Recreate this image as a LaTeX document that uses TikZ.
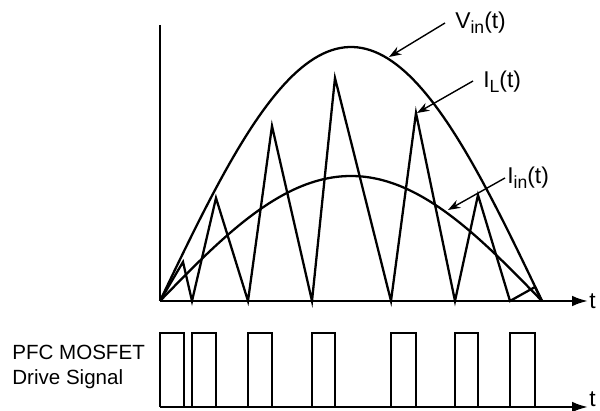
\documentclass[tikz,border=0pt]{standalone}
\usepackage{fontspec}
\setmainfont{Liberation Sans}
\usetikzlibrary{arrows.meta}
\newcommand{\subind}[1]{\raisebox{-0.45ex}{\fontsize{10}{10}\selectfont #1}}

\begin{document}
\begin{tikzpicture}[x=0.02cm, y=-0.02cm,
        every node/.style={font=\fontsize{13}{15}\selectfont, inner sep=0pt},
        eje/.style={line width=1.3pt, -{Latex[length=9pt,width=6pt]}},
        senal/.style={line width=1.3pt, line join=miter},
        flecha/.style={line width=0.8pt, -{Stealth[length=7pt,width=5pt]}}
    ]
    \useasboundingbox (0,0) rectangle (600,411);

    % Ejes superiores
    \coordinate (origen) at (160,301);
    \coordinate (finEjeY) at (160,25);
    \coordinate (finEjeT) at (588,301);
    \draw[line width=1.3pt] (finEjeY) -- (origen);
    \draw[eje] (origen) -- (finEjeT);
    \node[anchor=west] (tArriba) at (589,301) {t};

    % Vin e Iin
    \draw[senal, domain=160:542, samples=90] plot (\x, {301-254*sin(0.47120*(\x-160))});
    \draw[senal, domain=160:542, samples=90] plot (\x, {301-125*sin(0.47120*(\x-160))});

    % Corriente en la bobina
    \draw[senal] plot coordinates {(160,301) (183,262) (192,301) (216,198) (248,301) (272,126)
        (312,301) (335,78) (391,301) (416,113) (455,301) (478,195) (510,301) (535,287) (542,301)};

    % Etiquetas
    \node[anchor=west] (etiquetaVin) at (455,23) {V\subind{in}(t)};
    \node[anchor=west] (etiquetaIL) at (483,82) {I\subind{L}(t)};
    \node[anchor=west] (etiquetaIin) at (507,178) {I\subind{in}(t)};
    \coordinate (puntaVin) at (389,57);
    \coordinate (puntaIL) at (417,113);
    \coordinate (puntaIin) at (448,210);
    \draw[flecha] (445,23) -- (puntaVin);
    \draw[flecha] (473,81) -- (puntaIL);
    \draw[flecha] (505,178) -- (puntaIin);

    % Senal de disparo
    \node[anchor=west, align=left, font=\fontsize{11.7}{14.5}\selectfont] (disparo) at (12,367) {PFC MOSFET\\Drive Signal};
    \coordinate (origenAbajo) at (160,407);
    \coordinate (finEjeAbajo) at (588,407);
    \draw[eje] (origenAbajo) -- (finEjeAbajo);
    \node[anchor=west] (tAbajo) at (589,399) {t};
    \foreach \a/\b in {160/184, 192/216, 248/272, 312/335, 391/416, 455/478, 510/535}
        \draw[senal] (\a,407) -- (\a,333) -- (\b,333) -- (\b,407);
\end{tikzpicture}
\end{document}
